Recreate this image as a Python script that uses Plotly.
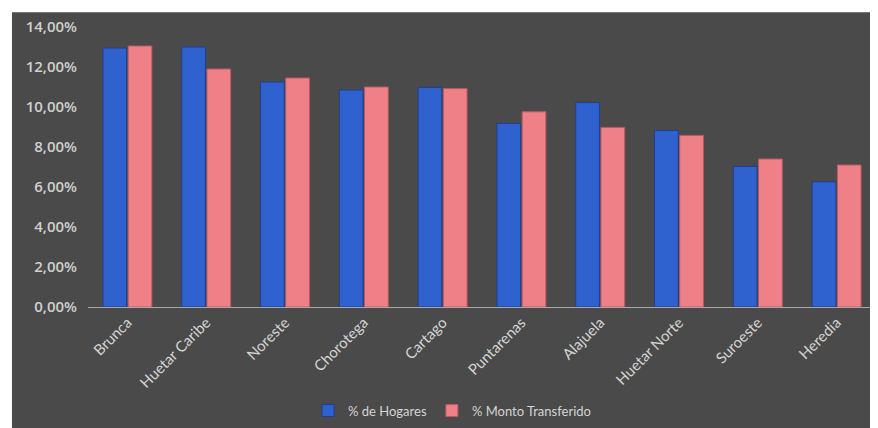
import plotly.graph_objects as go

categories = ["Brunca", "Huetar Caribe", "Noreste", "Chorotega", "Cartago",
              "Puntarenas", "Alajuela", "Huetar Norte", "Suroeste", "Heredia"]
hogares = [12.95, 13.00, 11.25, 10.85, 10.98, 9.18, 10.22, 8.82, 7.03, 6.26]
monto = [13.05, 11.90, 11.45, 11.00, 10.92, 9.76, 8.98, 8.58, 7.40, 7.10]
ytick_vals = [0, 2, 4, 6, 8, 10, 12, 14]

fig = go.Figure()
fig.add_trace(go.Bar(
    name="% de Hogares", x=categories, y=[v / 100 for v in hogares],
    marker=dict(color="#2f62cf", line=dict(color="#1f3f8f", width=1)),
))
fig.add_trace(go.Bar(
    name="% Monto Transferido", x=categories, y=[v / 100 for v in monto],
    marker=dict(color="#f08088", line=dict(color="#b85a60", width=1)),
))

fig.add_shape(type="rect", xref="paper", yref="paper",
              x0=-0.0965, x1=1.02, y0=-0.45, y1=1.053,
              fillcolor="#4a4a4a", line=dict(width=0), layer="below")

fig.update_layout(
    width=870, height=420,
    margin=dict(l=80, r=2, t=19, b=117),
    paper_bgcolor="white", plot_bgcolor="rgba(0,0,0,0)",
    separators=",.",
    barmode="group", bargap=0.36, bargroupgap=0.06,
    font=dict(family="Lato, sans-serif", color="#d4d4d4", size=12),
    showlegend=True,
    legend=dict(orientation="h", x=0.462, xanchor="center", y=-0.37, yanchor="middle",
                font=dict(size=13, color="#d4d4d4", family="Lato, sans-serif"),
                bgcolor="rgba(0,0,0,0)", itemwidth=30),
    xaxis=dict(tickangle=-45, showgrid=False, showline=True, linecolor="#a8a8a8",
               linewidth=1, ticks="", automargin=False,
               tickfont=dict(size=15, color="#d4d4d4", family="Lato, sans-serif")),
    yaxis=dict(range=[0, 0.14], tickvals=[v / 100 for v in ytick_vals], tickformat=".2%",
               showgrid=False, zeroline=False, ticks="", automargin=False,
               ticklabelstandoff=10,
               tickfont=dict(size=15, color="#d0d0d0", family="Open Sans, sans-serif",
                             weight=600)),
)

fig.write_html("out.html")
